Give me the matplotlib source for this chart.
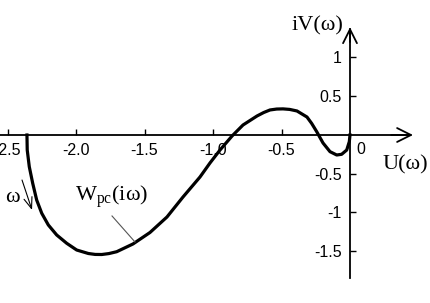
import matplotlib
matplotlib.use("Agg")
import matplotlib.pyplot as plt

# ==========================================================
# DATA
# ==========================================================

# Nyquist curve W_pc(i*omega): real part U, imaginary part V
u_values = [-2.358, -2.356, -2.341, -2.316, -2.287, -2.250, -2.202, -2.141,
            -2.068, -1.995, -1.910, -1.860, -1.812, -1.760, -1.703, -1.584,
            -1.460, -1.336, -1.219, -1.095, -1.022, -0.949, -0.861, -0.781,
            -0.679, -0.630, -0.584, -0.535, -0.489, -0.440, -0.387, -0.314,
            -0.280, -0.243, -0.197, -0.146, -0.097, -0.061, -0.024, -0.005,
            0.0]
v_values = [0.0, -0.194, -0.409, -0.623, -0.839, -1.010, -1.161, -1.290,
            -1.397, -1.484, -1.529, -1.541, -1.542, -1.530, -1.506, -1.406,
            -1.258, -1.058, -0.800, -0.542, -0.361, -0.194, -0.013, 0.129,
            0.245, 0.290, 0.323, 0.335, 0.337, 0.330, 0.310, 0.232,
            0.150, 0.043, -0.103, -0.215, -0.258, -0.249, -0.194, -0.086,
            0.0]

x_ticks = [-2.5, -2.0, -1.5, -1.0, -0.5]
x_tick_labels = ["-2.5", "-2.0", "-1.5", "-1.0", "-0.5"]
y_ticks = [1.0, 0.5, -0.5, -1.0, -1.5]
y_tick_labels = ["1", "0.5", "-0.5", "-1", "-1.5"]

# ==========================================================
# FIGURE
# ==========================================================

plt.rcParams["font.family"] = ["Liberation Sans", "DejaVu Sans"]
plt.rcParams["mathtext.fontset"] = "custom"
plt.rcParams["mathtext.rm"] = "Liberation Serif"

fig = plt.figure(figsize=(4.30, 3.03), dpi=100)
ax = fig.add_axes([0, 0, 1, 1])

ax.set_xlim(-350 / 137, 80 / 137)
ax.set_ylim((135 - 303) / 77.5, 135 / 77.5)

# axes through the origin
for side in ["top", "right"]:
    ax.spines[side].set_visible(False)
ax.spines["left"].set_position(("data", 0))
ax.spines["bottom"].set_position(("data", 0))
ax.spines["left"].set_bounds(-1.84, 1.37)
ax.spines["bottom"].set_bounds(-2.6, 0.44)
ax.spines["left"].set_linewidth(1.3)
ax.spines["bottom"].set_linewidth(1.3)

# arrow heads
arrow = dict(arrowstyle="->, head_length=1.0, head_width=0.5",
             lw=1.3, color="black", mutation_scale=10, shrinkA=0, shrinkB=0)
ax.annotate("", xy=(0.46, 0), xytext=(0.3, 0), arrowprops=arrow)
ax.annotate("", xy=(0, 1.39), xytext=(0, 1.2), arrowprops=arrow)

ax.set_xticks(x_ticks)
ax.set_xticklabels(x_tick_labels)
ax.set_yticks(y_ticks)
ax.set_yticklabels(y_tick_labels)
ax.tick_params(axis="both", direction="in", length=4, width=1,
               labelsize=11.5)
ax.tick_params(axis="x", pad=6)
ax.tick_params(axis="y", pad=6)

ax.text(0.05, -0.19, "0", fontsize=11.5, ha="left", va="center")

# curve
ax.plot(u_values, v_values, color="black", linewidth=2.3,
        solid_joinstyle="round")

# labels
serif = ["Liberation Serif", "DejaVu Serif"]
ax.text(-0.05, 1.41, "iV(ω)", family=serif, fontsize=16,
        ha="right", va="center")
ax.text(0.234, -0.39, "U(ω)", family=serif, fontsize=16,
        ha="left", va="center")
ax.text(-2.007, -0.8, "W$_{\\mathrm{pc}}$(iω)", family=serif, fontsize=16,
        ha="left", va="center")
ax.text(-2.52, -0.81, "ω", family=serif, fontsize=16,
        ha="left", va="center")

# leader line to the curve
ax.plot([-1.737, -1.569], [-1.045, -1.381], color="#555555", linewidth=0.8)

# direction of omega
ax.annotate("", xy=(-2.321, -0.968), xytext=(-2.394, -0.581),
            arrowprops=dict(arrowstyle="->, head_length=0.8, head_width=0.3",
                            lw=0.8, color="black", mutation_scale=10,
                            shrinkA=0, shrinkB=0))

fig.savefig("out.png", dpi=100)
